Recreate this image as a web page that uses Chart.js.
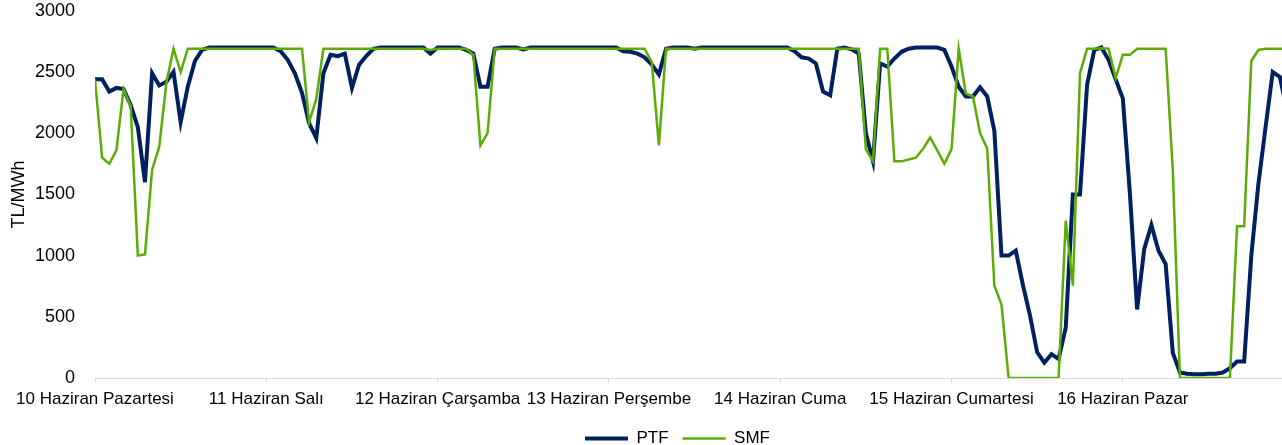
<!DOCTYPE html>
<html>
<head>
<meta charset="utf-8">
<script src="https://cdn.jsdelivr.net/npm/chart.js@4.4.1/dist/chart.umd.min.js"></script>
<style>
  html, body { margin: 0; padding: 0; background: #fff; overflow: hidden; }
  #wrap { width: 1287px; height: 445px; }
</style>
</head>
<body>
<div id="wrap"><canvas id="chart"></canvas></div>
<script>
// hourly prices, 10-16 June (168 hours)
const days = ['10 Haziran Pazartesi', '11 Haziran Salı', '12 Haziran Çarşamba', '13 Haziran Perşembe',
              '14 Haziran Cuma', '15 Haziran Cumartesi', '16 Haziran Pazar'];
const hours = Array.from({ length: 168 }, (_, i) => i);

const ptf = [
  2440, 2440, 2340, 2370, 2360, 2230, 2050, 1600, 2490, 2390,
  2420, 2500, 2090, 2380, 2590, 2680, 2700, 2700, 2700, 2700,
  2700, 2700, 2700, 2700, 2700, 2700, 2670, 2600, 2490, 2330,
  2080, 1960, 2490, 2640, 2630, 2650, 2370, 2560, 2630, 2690,
  2700, 2700, 2700, 2700, 2700, 2700, 2700, 2650, 2700, 2700,
  2700, 2700, 2680, 2650, 2380, 2380, 2690, 2700, 2700, 2700,
  2685, 2700, 2700, 2700, 2700, 2700, 2700, 2700, 2700, 2700,
  2700, 2700, 2700, 2700, 2670, 2665, 2650, 2620, 2560, 2480,
  2690, 2700, 2700, 2700, 2690, 2700, 2700, 2700, 2700, 2700,
  2700, 2700, 2700, 2700, 2700, 2700, 2700, 2700, 2670, 2620,
  2610, 2570, 2340, 2310, 2690, 2700, 2685, 2650, 2000, 1770,
  2570, 2545, 2610, 2665, 2690, 2700, 2700, 2700, 2700, 2680,
  2545, 2380, 2300, 2300, 2375, 2300, 2020, 1000, 1000, 1040,
  760, 510, 210, 125, 195, 155, 410, 1500, 1500, 2400,
  2680, 2700, 2600, 2440, 2285, 1500, 560, 1055, 1250, 1040,
  930, 205, 45, 35, 30, 30, 35, 35, 45, 80,
  135, 135, 1000, 1590, 2050, 2500, 2460, 2180
];

const smf = [
  2440, 1800, 1750, 1860, 2360, 2220, 1000, 1010, 1700, 1890,
  2410, 2690, 2500, 2690, 2690, 2690, 2690, 2690, 2690, 2690,
  2690, 2690, 2690, 2690, 2690, 2690, 2690, 2690, 2690, 2690,
  2090, 2280, 2690, 2690, 2690, 2690, 2690, 2690, 2690, 2690,
  2690, 2690, 2690, 2690, 2690, 2690, 2690, 2680, 2690, 2690,
  2690, 2690, 2690, 2640, 1900, 2000, 2690, 2690, 2690, 2690,
  2690, 2690, 2690, 2690, 2690, 2690, 2690, 2690, 2690, 2690,
  2690, 2690, 2690, 2690, 2690, 2690, 2690, 2690, 2580, 1900,
  2690, 2690, 2690, 2690, 2690, 2690, 2690, 2690, 2690, 2690,
  2690, 2690, 2690, 2690, 2690, 2690, 2690, 2690, 2690, 2690,
  2690, 2690, 2690, 2690, 2690, 2690, 2690, 2690, 1870, 1770,
  2690, 2690, 1770, 1770, 1785, 1800, 1870, 1965, 1860, 1750,
  1870, 2690, 2325, 2300, 2000, 1875, 755, 600, 0, 0,
  0, 0, 0, 0, 0, 0, 1285, 755, 2490, 2690,
  2690, 2695, 2690, 2450, 2640, 2640, 2690, 2690, 2690, 2690,
  2690, 1700, 0, 0, 0, 0, 0, 0, 0, 0,
  1240, 1240, 2590, 2680, 2690, 2690, 2690, 2690
];

const yTicks = [0, 500, 1000, 1500, 2000, 2500, 3000];

const font = 'Liberation Sans, Arial, sans-serif';

// legend sits a bit right of centre and a bit lower in the original
const legendShift = {
  id: 'legendShift',
  afterLayout(chart) {
    const lg = chart.legend;
    lg.left += 34;
    lg.right += 34;
    lg.top += 8;
    lg.bottom += 8;
  }
};

new Chart(document.getElementById('chart'), {
  type: 'line',
  data: {
    labels: hours,
    datasets: [{
      label: 'PTF',
      data: ptf,
      borderColor: '#002060',
      backgroundColor: '#002060',
      borderWidth: 4,
      order: 1
    }, {
      label: 'SMF',
      data: smf,
      borderColor: '#5cac06',
      backgroundColor: '#5cac06',
      borderWidth: 2.5,
      order: 0
    }]
  },
  options: {
    responsive: true,
    maintainAspectRatio: false,
    animation: false,
    elements: {
      point: { radius: 0 },
      line: { tension: 0 }
    },
    scales: {
      x: {
        type: 'linear',
        min: 0,
        max: 167,
        afterFit: (scale) => { scale.height = 30; },
        grid: { drawOnChartArea: false, color: '#d9d9d9', tickLength: 5 },
        border: { color: '#d9d9d9', width: 1 },
        ticks: {
          stepSize: 24,
          includeBounds: false,
          autoSkip: false,
          maxRotation: 0,
          padding: 6,
          color: '#000',
          font: { family: font, size: 17 },
          callback: (v) => days[v / 24] || ''
        }
      },
      y: {
        min: 0,
        max: 3000,
        afterBuildTicks: (scale) => { scale.ticks = yTicks.map(v => ({ value: v })); },
        afterFit: (scale) => { scale.width = 95; },
        // tick marks hidden, their length only keeps the labels off the plot
        grid: { display: false, drawTicks: true, tickLength: 20 },
        border: { display: false },
        ticks: {
          padding: 0,
          color: '#000',
          font: { family: font, size: 18 },
          callback: (v) => String(v)
        },
        title: {
          display: true,
          text: 'TL/MWh',
          color: '#000',
          padding: { top: 8, bottom: 0 },
          font: { family: font, size: 18 }
        }
      }
    },
    plugins: {
      tooltip: { enabled: false },
      legend: {
        position: 'bottom',
        maxHeight: 37,
        labels: {
          usePointStyle: true,
          pointStyle: 'line',
          pointStyleWidth: 43,
          padding: 14,
          color: '#000',
          font: { family: font, size: 17 },
          sort: (a, b) => a.datasetIndex - b.datasetIndex
        }
      }
    }
  },
  plugins: [legendShift]
});
</script>
</body>
</html>
